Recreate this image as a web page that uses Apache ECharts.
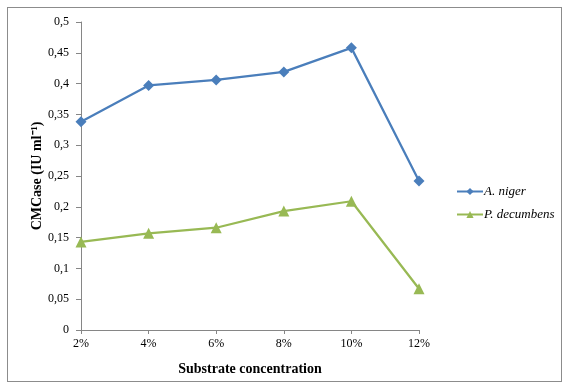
<!DOCTYPE html>
<html><head><meta charset="utf-8">
<script src="https://cdn.jsdelivr.net/npm/echarts@6/dist/echarts.min.js"></script>
<style>
html,body{margin:0;padding:0;background:#fff;}
#frame{position:absolute;left:7px;top:7px;width:555px;height:375px;border:1px solid #8c8c8c;box-sizing:border-box;}
#c{position:absolute;left:0;top:0;width:569px;height:385px;}
</style></head>
<body>
<div id="frame"></div>
<div id="c"></div>
<script>
const categories = ['2%','4%','6%','8%','10%','12%'];
const aNiger = [0.338, 0.397, 0.406, 0.419, 0.458, 0.242];
const pDecumbens = [0.143, 0.157, 0.166, 0.193, 0.209, 0.067];
const yTicks = ['0','0,05','0,1','0,15','0,2','0,25','0,3','0,35','0,4','0,45','0,5'];

const chart = echarts.init(document.getElementById('c'));
const font = 'Liberation Serif';
chart.setOption({
  animation:false,
  grid:{left:81, right:150, top:22, bottom:55},
  legend:{
    orient:'vertical', left:451, top:180, itemGap:10, itemWidth:26, itemHeight:9,
    textStyle:{fontFamily:font, fontStyle:'italic', fontSize:13, color:'#000', padding:[0,0,0,-4]},
    data:['A. niger','P. decumbens']
  },
  xAxis:{
    type:'category', data:categories, boundaryGap:false,
    axisLine:{lineStyle:{color:'#868686'}},
    axisTick:{show:true, length:4, lineStyle:{color:'#868686'}},
    axisLabel:{fontFamily:font, fontSize:12, color:'#000', margin:8},
    name:'Substrate concentration', nameLocation:'middle', nameGap:32,
    nameTextStyle:{fontFamily:font, fontWeight:'bold', fontSize:14, color:'#000'}
  },
  yAxis:{
    type:'value', min:0, max:0.5, interval:0.05,
    axisLine:{show:true, lineStyle:{color:'#868686'}},
    axisTick:{show:true, length:5, lineStyle:{color:'#868686'}},
    splitLine:{show:false},
    axisLabel:{fontFamily:font, fontSize:12, color:'#000', margin:12,
      formatter:function(v){return yTicks[Math.round(v/0.05)];}},
    name:'CMCase (IU ml\u207B\u00B9)', nameLocation:'middle', nameGap:37, nameRotate:90,
    nameMoveOverlap:false,
    nameTextStyle:{fontFamily:font, fontWeight:'bold', fontSize:14, color:'#000'}
  },
  series:[
    {name:'A. niger', type:'line', data:aNiger, symbol:'diamond', symbolSize:11,
     lineStyle:{color:'#4A7EBB', width:2.25}, itemStyle:{color:'#4A7EBB'}},
    {name:'P. decumbens', type:'line', data:pDecumbens, symbol:'triangle', symbolSize:11,
     lineStyle:{color:'#98B954', width:2.25}, itemStyle:{color:'#98B954'}}
  ]
});
</script>
</body></html>
